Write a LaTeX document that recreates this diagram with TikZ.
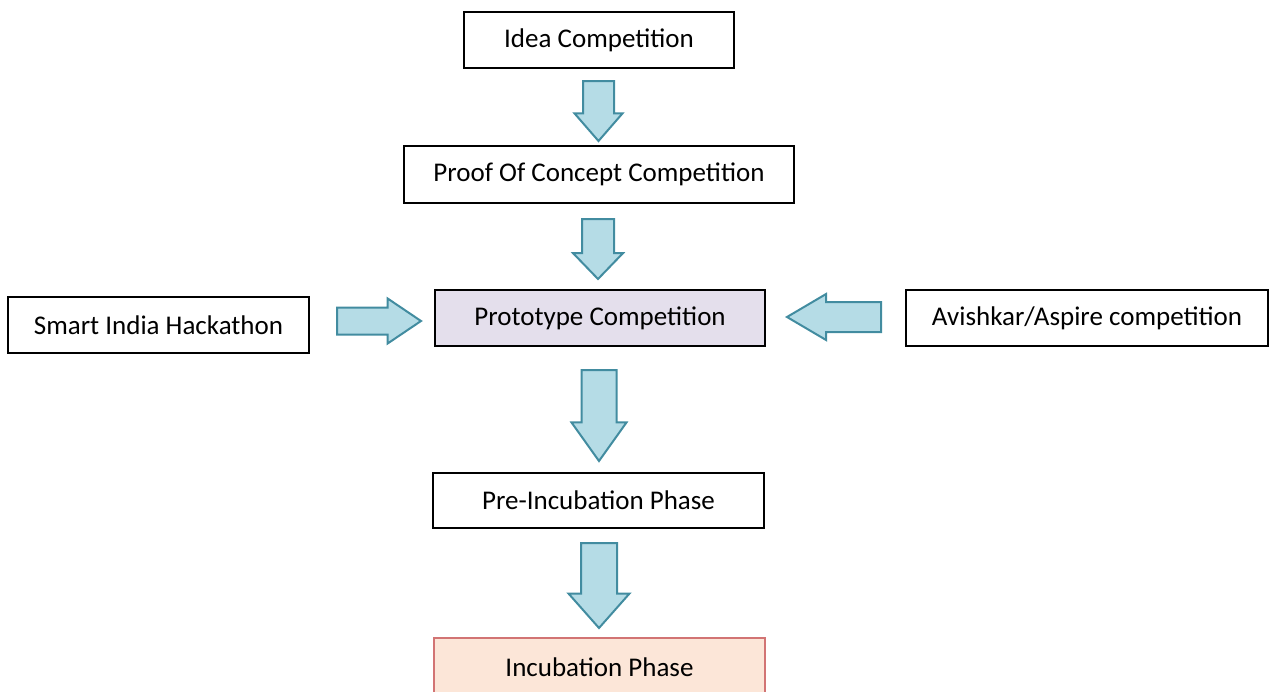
\documentclass[tikz,border=0pt]{standalone}
\usepackage{fontspec}
\setmainfont{Carlito}
\usetikzlibrary{shapes.arrows}
\definecolor{arrowfill}{HTML}{B5DCE6}
\definecolor{arrowline}{HTML}{428CA0}
\definecolor{protofill}{HTML}{E4DFEC}
\definecolor{incfill}{HTML}{FCE6D8}
\definecolor{incline}{HTML}{D27474}

\begin{document}
\begin{tikzpicture}[x=1pt, y=-1pt,
	stage/.style={draw=black, line width=1.4pt, inner sep=0pt, minimum height=56pt, font=\fontsize{27}{32}\selectfont},
	blockarrow/.style={single arrow, draw=arrowline, fill=arrowfill, line width=2pt, inner xsep=0pt, minimum width=0pt, minimum height=#1, anchor=tail}]
	\useasboundingbox (0,0) rectangle (1271,691);

	% boxes
	\node [stage, minimum width=270pt] (idea) at (599,40) {Idea Competition};
	\node [stage, minimum width=390pt, minimum height=57pt] (poc) at (599,174.5) {Proof Of Concept Competition};
	\node [stage, fill=protofill, minimum width=330pt] (proto) at (600,318) {Prototype Competition};
	\node [stage, minimum width=301pt] (sih) at (158.5,325) {Smart India Hackathon};
	\node [stage, minimum width=362pt] (avishkar) at (1087,318) {Avishkar/Aspire competition};
	\node [stage, minimum width=331pt, minimum height=55pt] (preinc) at (598.5,500.5) {Pre-Incubation Phase};
	\node [stage, draw=incline, fill=incfill, minimum width=331pt, minimum height=58pt] (inc) at (599.5,667) {Incubation Phase};

	% block arrows (placed by their tails)
	\node [blockarrow=60pt, inner ysep=14.5pt, single arrow head extend=8.5pt, single arrow tip angle=82, rotate=-90] (ideatopoc) at (598.5,80) {};
	\node [blockarrow=60pt, inner ysep=15pt, single arrow head extend=9pt, single arrow tip angle=88, rotate=-90] (poctoproto) at (598,218) {};
	\node [blockarrow=91pt, inner ysep=16.5pt, single arrow head extend=10pt, single arrow tip angle=71, rotate=-90] (prototopreinc) at (599,369) {};
	\node [blockarrow=85pt, inner ysep=17pt, single arrow head extend=12.5pt, single arrow tip angle=83, rotate=-90] (preinctoinc) at (599,542) {};
	\node [blockarrow=84pt, inner ysep=12.5pt, single arrow head extend=9pt, single arrow tip angle=68] (sihtoproto) at (336,321) {};
	\node [blockarrow=94pt, inner ysep=14pt, single arrow head extend=8pt, single arrow tip angle=61, rotate=180] (avishkartoproto) at (882,317) {};
\end{tikzpicture}
\end{document}
